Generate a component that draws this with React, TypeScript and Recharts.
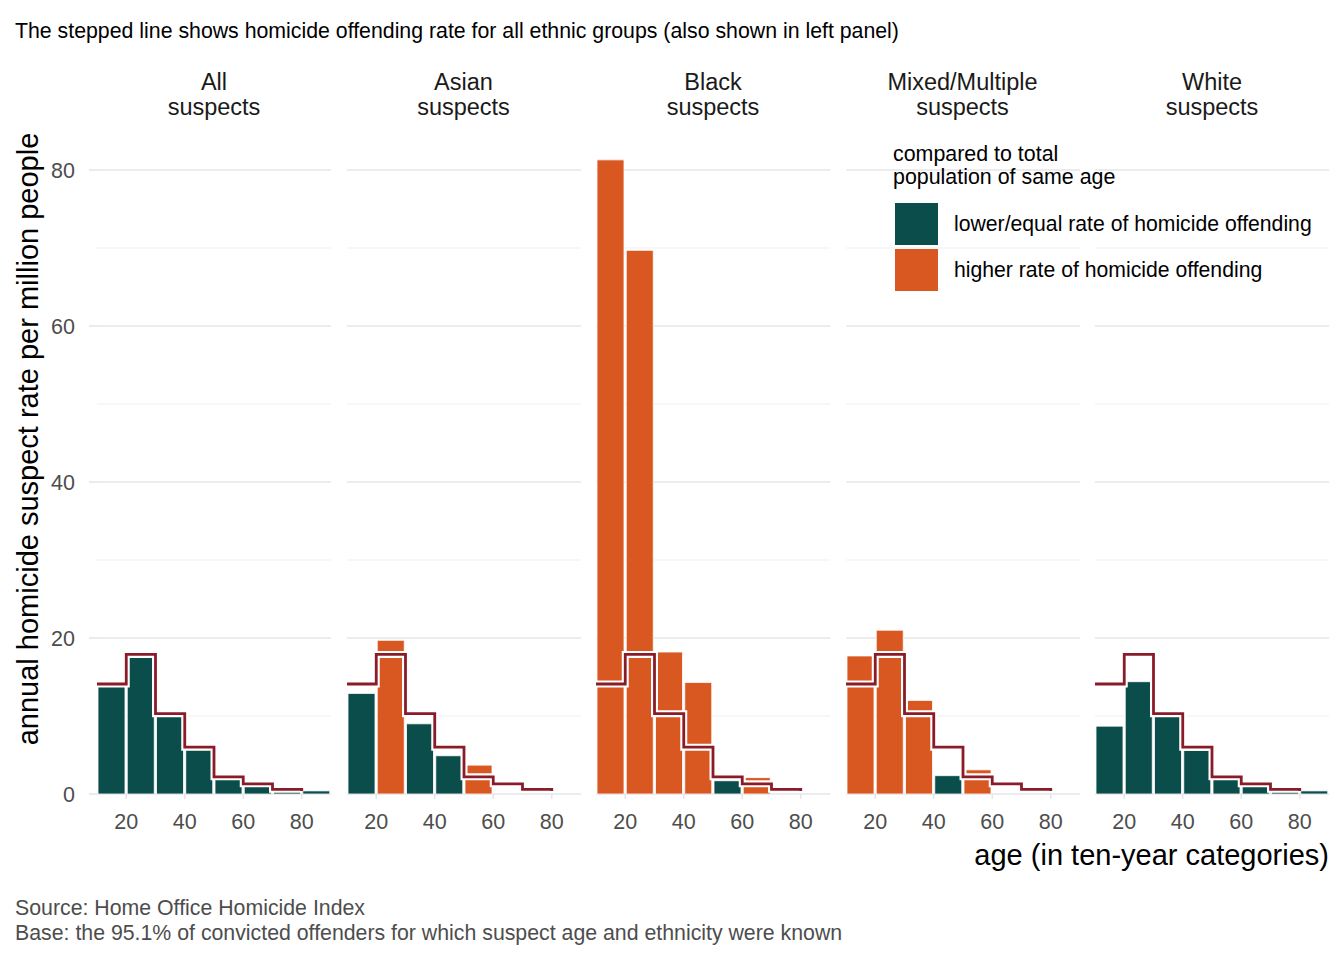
import { Bar, CartesianGrid, Cell, ComposedChart, Line, XAxis, YAxis } from "recharts";

// age bins (start of each ten-year band)
const binStarts = [10, 20, 30, 40, 50, 60, 70, 80];

// annual homicide suspect rate per million people, per bin
const allRate = [14.1, 17.9, 10.3, 6.0, 2.2, 1.3, 0.6, 0.4];
const asianRate = [12.9, 19.7, 9.0, 4.9, 3.7, 0, 0, 0];
const blackRate = [81.3, 69.7, 18.2, 14.3, 1.7, 2.1, 0, 0];
const mixedRate = [17.7, 21.0, 12.0, 2.35, 3.1, 0, 0, 0];
const whiteRate = [8.7, 14.4, 10.0, 5.6, 1.9, 1.0, 0.3, 0.4];

const panelNames = ["All", "Asian", "Black", "Mixed/Multiple", "White"];
const panelRates = [allRate, asianRate, blackRate, mixedRate, whiteRate];

const yMajorTicks = [0, 20, 40, 60, 80];
const yMinorTicks = [10, 30, 50, 70];
const xTicks = [20, 40, 60, 80];

const GREEN = "#0b4d4a";
const ORANGE = "#d95721";
const RED = "#8a1c2a";
const GRID = "#e6e6e6";
const FONT = '"Liberation Sans", Arial, sans-serif';

const PLOT_LEFT = 97;
const PLOT_TOP = 131;
const PLOT_W = 234;
const PLOT_H = 663;
const PANEL_STEP = 249.5;
const X_AXIS_H = 50;

function Panel({ index }: { index: number }) {
  const first = index === 0;
  const rates = panelRates[index];
  const bars = binStarts.map((s, i) => ({
    age: s + 5,
    rate: rates[i],
    higher: rates[i] > allRate[i],
  }));
  const steps = binStarts.map((s, i) => ({ age: s, total: allRate[i] }));
  const yW = first ? PLOT_LEFT : 0;
  const left = first ? 0 : PLOT_LEFT + index * PANEL_STEP;

  return (
    <div style={{ position: "absolute", left, top: PLOT_TOP }}>
      <ComposedChart
        width={PLOT_W + yW}
        height={PLOT_H + X_AXIS_H}
        data={bars}
        margin={{ top: 0, right: 0, bottom: 0, left: 0 }}
        barCategoryGap={1}
      >
        <CartesianGrid
          vertical={false}
          horizontalValues={yMinorTicks}
          stroke="#efefef"
          strokeWidth={1}
        />
        <CartesianGrid
          vertical={false}
          horizontalValues={yMajorTicks}
          stroke={GRID}
          strokeWidth={1.6}
        />
        <XAxis
          type="number"
          dataKey="age"
          domain={[10, 90]}
          allowDataOverflow
          ticks={xTicks}
          interval={0}
          axisLine={false}
          tickLine={{ stroke: GRID, strokeWidth: 1.6 }}
          tickSize={5}
          tickMargin={15}
          height={X_AXIS_H}
          tick={{ fill: "#4d4d4d", fontSize: 21.5, fontFamily: FONT }}
        />
        <XAxis
          xAxisId="step"
          type="number"
          dataKey="age"
          domain={[10, 90]}
          allowDataOverflow
          hide
        />
        <YAxis
          hide={!first}
          width={yW}
          type="number"
          domain={[0, 85]}
          allowDataOverflow
          ticks={yMajorTicks}
          interval={0}
          axisLine={false}
          tickLine={{ stroke: GRID, strokeWidth: 1.6 }}
          tickSize={8}
          tickMargin={14}
          tick={{ fill: "#4d4d4d", fontSize: 21.5, fontFamily: FONT }}
        />
        <Bar dataKey="rate" stroke="#ffffff" strokeWidth={0.8} isAnimationActive={false}>
          {bars.map((d, i) => (
            <Cell key={i} fill={d.higher ? ORANGE : GREEN} />
          ))}
        </Bar>
        <Line
          xAxisId="step"
          data={steps}
          dataKey="total"
          type="stepAfter"
          stroke="#ffffff"
          strokeWidth={7}
          dot={false}
          activeDot={false}
          isAnimationActive={false}
        />
        <Line
          xAxisId="step"
          data={steps}
          dataKey="total"
          type="stepAfter"
          stroke={RED}
          strokeWidth={2.8}
          dot={false}
          activeDot={false}
          isAnimationActive={false}
        />
      </ComposedChart>
    </div>
  );
}

const abs = (style: React.CSSProperties): React.CSSProperties => ({
  position: "absolute",
  whiteSpace: "nowrap",
  fontFamily: FONT,
  lineHeight: 1,
  ...style,
});

export default function App() {
  return (
    <div
      style={{
        position: "relative",
        width: 1344,
        height: 960,
        margin: -8,
        background: "#fff",
        fontFamily: FONT,
        overflow: "hidden",
      }}
    >
      <div style={abs({ left: 15, top: 20.5, fontSize: 21.3, color: "#000" })}>
        The stepped line shows homicide offending rate for all ethnic groups (also shown in left panel)
      </div>

      {panelNames.map((n, i) => (
        <div
          key={n}
          style={abs({
            left: PLOT_LEFT + i * PANEL_STEP,
            width: PLOT_W,
            top: 69.5,
            textAlign: "center",
            fontSize: 23.5,
            lineHeight: "25px",
            color: "#1a1a1a",
          })}
        >
          {n}
          <br />
          suspects
        </div>
      ))}

      {panelNames.map((n, i) => (
        <Panel key={n} index={i} />
      ))}

      <div
        style={abs({
          left: 28,
          top: 439,
          fontSize: 29,
          color: "#000",
          transform: "translate(-50%, -50%) rotate(-90deg)",
        })}
      >
        annual homicide suspect rate per million people
      </div>

      <div style={abs({ right: 15, top: 840.5, fontSize: 29, color: "#000" })}>
        age (in ten-year categories)
      </div>

      {/* legend */}
      <div style={abs({ left: 893, top: 142.5, fontSize: 21.4, lineHeight: "23px", color: "#000" })}>
        compared to total
        <br />
        population of same age
      </div>
      <div style={abs({ left: 895, top: 203, width: 43, height: 42, background: GREEN })} />
      <div style={abs({ left: 895, top: 249, width: 43, height: 42, background: ORANGE })} />
      <div style={abs({ left: 954, top: 213.4, fontSize: 21.2, color: "#000" })}>
        lower/equal rate of homicide offending
      </div>
      <div style={abs({ left: 954, top: 259.4, fontSize: 21.2, color: "#000" })}>
        higher rate of homicide offending
      </div>

      <div style={abs({ left: 15, top: 898.4, fontSize: 21.3, color: "#4d4d4d" })}>
        Source: Home Office Homicide Index
      </div>
      <div style={abs({ left: 15, top: 923.4, fontSize: 21.3, color: "#4d4d4d" })}>
        Base: the 95.1% of convicted offenders for which suspect age and ethnicity were known
      </div>
    </div>
  );
}
